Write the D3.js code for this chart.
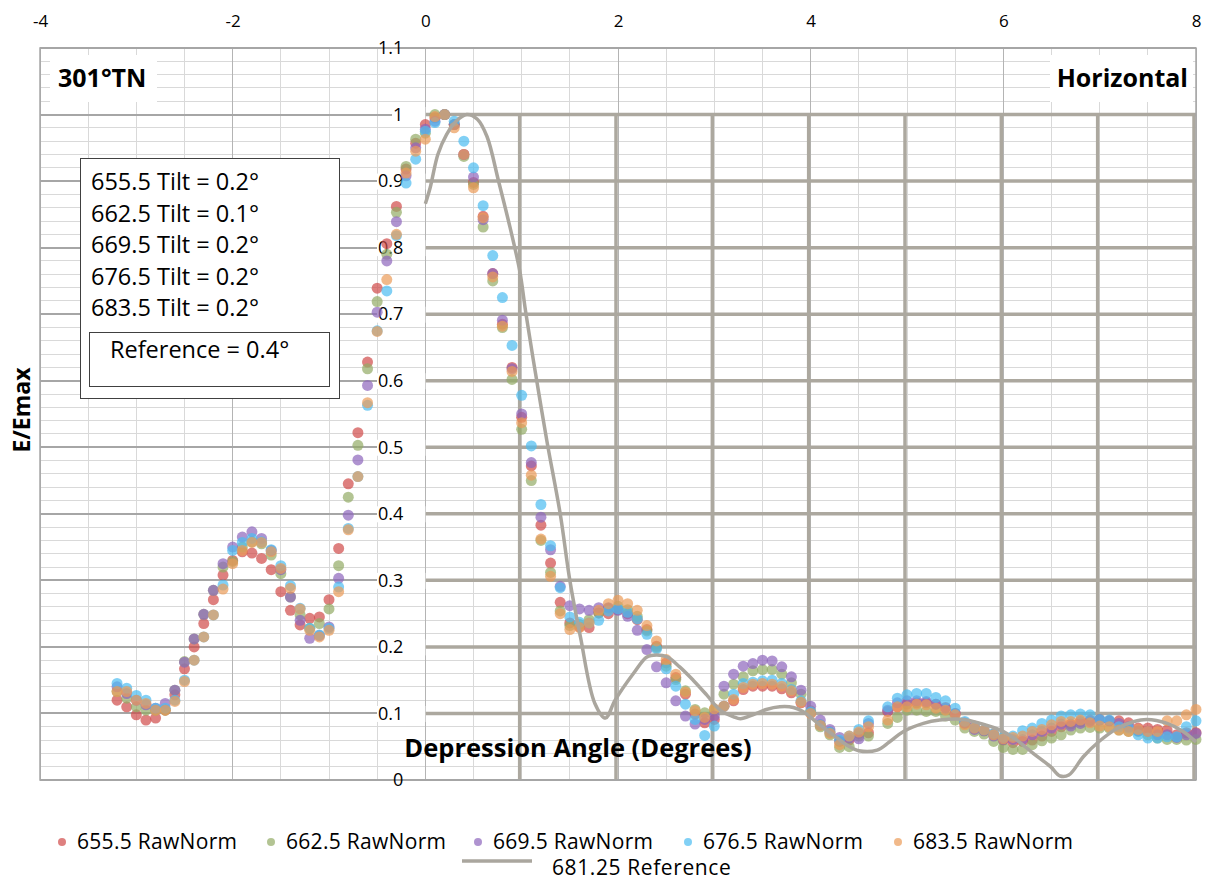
<!DOCTYPE html>
<html>
<head>
<meta charset="utf-8">
<script src="https://d3js.org/d3.v7.min.js"></script>
<style>
body { margin: 0; background: #fff; }
svg { display: block; font-family: "Open Sans", sans-serif; }
</style>
</head>
<body>
<script>
// depression angles of the measured points (degrees)
var angles = [
  -3.2, -3.1, -3.0, -2.9, -2.8, -2.7, -2.6, -2.5, -2.4, -2.3,
  -2.2, -2.1, -2.0, -1.9, -1.8, -1.7, -1.6, -1.5, -1.4, -1.3,
  -1.2, -1.1, -1.0, -0.9, -0.8, -0.7, -0.6, -0.5, -0.4, -0.3,
  -0.2, -0.1, 0.0, 0.1, 0.2, 0.3, 0.4, 0.5, 0.6, 0.7,
  0.8, 0.9, 1.0, 1.1, 1.2, 1.3, 1.4, 1.5, 1.6, 1.7,
  1.8, 1.9, 2.0, 2.1, 2.2, 2.3, 2.4, 2.5, 2.6, 2.7,
  2.8, 2.9, 3.0, 3.1, 3.2, 3.3, 3.4, 3.5, 3.6, 3.7,
  3.8, 3.9, 4.0, 4.1, 4.2, 4.3, 4.4, 4.5, 4.6, 4.7,
  4.8, 4.9, 5.0, 5.1, 5.2, 5.3, 5.4, 5.5, 5.6, 5.7,
  5.8, 5.9, 6.0, 6.1, 6.2, 6.3, 6.4, 6.5, 6.6, 6.7,
  6.8, 6.9, 7.0, 7.1, 7.2, 7.3, 7.4, 7.5, 7.6, 7.7,
  7.8, 7.9, 8.0
];

// E/Emax per wavelength (no sample at 4.7)
var raw655 = [
  .12, .11, .098, .09, .093, .105, .128, .167, .2, .235,
  .271, .308, .33, .343, .341, .333, .316, .283, .255, .233,
  .243, .245, .271, .348, .445, .522, .628, .739, .806, .862,
  .918, .957, .985, .995, 1.0, .985, .94, .898, .847, .761,
  .685, .62, .545, .472, .383, .326, .267, .236, .23, .229,
  .251, .25, .256, .25, .241, .226, .201, .176, .154, .129,
  .099, .086, .091, .111, .119, .136, .141, .141, .141, .137,
  .131, .116, .101, .083, .072, .058, .06, .07, .071, null,
  .103, .11, .114, .116, .116, .114, .109, .1, .085, .081,
  .074, .069, .06, .056, .058, .06, .066, .073, .08, .084,
  .088, .09, .091, .089, .089, .086, .078, .078, .076, .075,
  .068, .071, .071
];
var raw662 = [
  .133, .123, .11, .105, .105, .105, .135, .178, .212, .249,
  .285, .32, .328, .35, .358, .355, .338, .31, .275, .248,
  .228, .235, .257, .322, .425, .503, .618, .719, .79, .853,
  .922, .963, .972, 1.0, 1.0, .985, .937, .895, .831, .75,
  .68, .602, .527, .45, .36, .312, .254, .232, .234, .241,
  .251, .258, .261, .256, .246, .224, .199, .171, .151, .134,
  .106, .101, .106, .129, .144, .155, .164, .166, .166, .159,
  .146, .129, .104, .08, .068, .049, .05, .066, .066, null,
  .085, .094, .105, .105, .103, .103, .096, .09, .078, .073,
  .069, .058, .049, .046, .046, .053, .059, .063, .068, .075,
  .078, .079, .078, .078, .075, .073, .073, .068, .063, .061,
  .061, .06, .061
];
var raw669 = [
  .14, .13, .12, .113, .108, .115, .135, .177, .212, .249,
  .285, .325, .35, .365, .373, .363, .345, .316, .275, .24,
  .213, .217, .23, .303, .398, .481, .593, .703, .78, .839,
  .908, .95, .978, .99, 1.0, .985, .94, .906, .842, .761,
  .691, .618, .55, .477, .395, .346, .291, .262, .257, .255,
  .259, .259, .255, .246, .225, .196, .17, .146, .119, .096,
  .084, .091, .096, .141, .159, .171, .175, .18, .179, .17,
  .155, .135, .111, .09, .076, .064, .063, .062, .085, null,
  .105, .116, .119, .119, .118, .114, .108, .1, .086, .076,
  .074, .066, .061, .061, .061, .068, .073, .078, .084, .081,
  .085, .088, .09, .089, .085, .08, .074, .073, .068, .068,
  .064, .068, .07
];
var raw676 = [
  .145, .138, .127, .12, .108, .108, .12, .15, .18, .215,
  .248, .293, .345, .357, .363, .358, .346, .322, .292, .258,
  .228, .218, .228, .29, .378, .456, .563, .675, .735, .818,
  .897, .933, .975, .988, 1.0, .99, .96, .92, .863, .788,
  .725, .653, .578, .502, .414, .352, .289, .245, .237, .236,
  .24, .254, .257, .252, .242, .219, .197, .167, .141, .114,
  .091, .067, .081, .111, .129, .145, .147, .149, .15, .145,
  .136, .119, .102, .083, .072, .06, .066, .076, .089, null,
  .11, .123, .128, .13, .13, .124, .119, .108, .088, .079,
  .075, .07, .064, .066, .074, .078, .085, .09, .096, .098,
  .099, .098, .091, .09, .08, .078, .068, .063, .063, .065,
  .065, .08, .089
];
var raw683 = [
  .133, .133, .12, .115, .105, .105, .118, .148, .18, .215,
  .248, .287, .325, .345, .357, .357, .343, .318, .288, .257,
  .225, .215, .225, .283, .376, .456, .567, .674, .752, .82,
  .912, .945, .963, .997, 1.0, .98, .94, .89, .845, .756,
  .682, .614, .537, .458, .362, .306, .25, .226, .229, .236,
  .255, .265, .27, .265, .255, .232, .209, .181, .159, .132,
  .104, .094, .107, .111, .121, .139, .144, .145, .144, .141,
  .134, .117, .1, .082, .07, .053, .066, .072, .08, null,
  .09, .11, .11, .114, .113, .108, .105, .098, .083, .078,
  .075, .068, .062, .064, .066, .073, .076, .083, .088, .088,
  .09, .086, .081, .08, .075, .073, .076, .073, .073, .089,
  .089, .098, .106
];

// 681.25 reference curve
var refAngle = [0, 0.05, 0.13, 0.22, 0.32, 0.43, 0.54, 0.64, 0.76, 0.88,
  0.98, 1.04, 1.12, 1.26, 1.4, 1.5, 1.61, 1.76, 1.87, 1.97,
  2.16, 2.3, 2.4, 2.51, 2.64, 2.78, 2.92, 3.06, 3.2, 3.27,
  3.4, 3.54, 3.68, 3.82, 3.92, 4.06, 4.24, 4.38, 4.5, 4.69,
  4.82, 4.96, 5.17, 5.34, 5.59, 5.76, 5.97, 6.14, 6.31, 6.49,
  6.59, 6.68, 6.83, 6.99, 7.18, 7.35, 7.49, 7.7, 7.87, 8.0];
var refValue = [0.866, 0.89, 0.94, 0.97, 0.99, 1.0, 0.993, 0.967, 0.9, 0.83,
  0.765, 0.705, 0.632, 0.511, 0.4, 0.3, 0.215, 0.115, 0.093, 0.12,
  0.16, 0.185, 0.188, 0.185, 0.17, 0.15, 0.128, 0.105, 0.095, 0.092,
  0.098, 0.106, 0.11, 0.109, 0.103, 0.087, 0.067, 0.052, 0.044, 0.045,
  0.0575, 0.0725, 0.085, 0.09, 0.091, 0.085, 0.075, 0.06, 0.04, 0.02,
  0.006, 0.0075, 0.035, 0.0575, 0.0775, 0.0875, 0.091, 0.085, 0.0725, 0.057];

var seriesNames = ["655.5 RawNorm", "662.5 RawNorm", "669.5 RawNorm", "676.5 RawNorm", "683.5 RawNorm"];
var seriesValues = [raw655, raw662, raw669, raw676, raw683];
var seriesColors = ["#d04a48", "#93ab65", "#8d65bc", "#4bbcf1", "#eb9b58"];
var refName = "681.25 Reference";

var xTicks = [-4, -2, 0, 2, 4, 6, 8];
var yTicks = [0, 0.1, 0.2, 0.3, 0.4, 0.5, 0.6, 0.7, 0.8, 0.9, 1, 1.1];
var tiltLines = ["655.5 Tilt = 0.2°", "662.5 Tilt = 0.1°", "669.5 Tilt = 0.2°", "676.5 Tilt = 0.2°", "683.5 Tilt = 0.2°"];
var refNote = "Reference = 0.4°";

function run_d3 () {

    var width = 1208,
        height = 880;

    var svg = d3.select("body")
        .append("svg")
        .attr("width", width)
        .attr("height", height);

    var x = d3.scaleLinear().domain([-4, 8]).range([40, 1196]);
    var y = d3.scaleLinear().domain([0, 1.1]).range([780, 48]);

    var grid = svg.append("g").attr("shape-rendering", "crispEdges");

    // light grid: every 0.02 across, every 0.5 down
    grid.selectAll(".hmin")
        .data(d3.range(0, 56).map(function (i) { return i * 0.02; }))
        .enter().append("line")
        .attr("x1", x(-4)).attr("x2", x(8))
        .attr("y1", function (d) { return y(d); })
        .attr("y2", function (d) { return y(d); })
        .attr("stroke", "#d9d9d9");

    grid.selectAll(".vmin")
        .data(d3.range(0, 25).map(function (i) { return -4 + i * 0.5; }))
        .enter().append("line")
        .attr("y1", y(0)).attr("y2", y(1.1))
        .attr("x1", function (d) { return x(d); })
        .attr("x2", function (d) { return x(d); })
        .attr("stroke", function (d) { return d % 2 === 0 ? "#b4b4b4" : "#d9d9d9"; });

    // major horizontal lines every 0.1
    grid.selectAll(".hmaj")
        .data(yTicks)
        .enter().append("line")
        .attr("x1", x(-4)).attr("x2", x(8))
        .attr("y1", function (d) { return y(d); })
        .attr("y2", function (d) { return y(d); })
        .attr("stroke", "#a6a6a6")
        .attr("stroke-width", 2);

    // heavy grid over the right half
    var heavy = svg.append("g");
    heavy.selectAll(".hthick")
        .data(yTicks.slice(1, 11))
        .enter().append("line")
        .attr("x1", x(0)).attr("x2", x(8))
        .attr("y1", function (d) { return y(d); })
        .attr("y2", function (d) { return y(d); })
        .attr("stroke", "#aca89f")
        .attr("stroke-width", 3.5);
    heavy.selectAll(".vthick")
        .data([1, 2, 3, 4, 5, 6, 7, 8])
        .enter().append("line")
        .attr("x1", function (d) { return x(d) - 2; })
        .attr("x2", function (d) { return x(d) - 2; })
        .attr("y1", y(0)).attr("y2", y(1))
        .attr("stroke", "#aca89f")
        .attr("stroke-width", 3.5);

    // plot border
    svg.append("rect")
        .attr("x", x(-4)).attr("y", y(1.1))
        .attr("width", x(8) - x(-4)).attr("height", y(0) - y(1.1))
        .attr("fill", "none")
        .attr("stroke", "#a6a6a6")
        .attr("stroke-width", 1.5);

    // top axis
    var xAxis = svg.append("g")
        .attr("transform", "translate(0,27)")
        .call(d3.axisTop(x).tickValues(xTicks).tickSize(0).tickPadding(0)
            .tickFormat(function (d) { return String(d); }));
    xAxis.select(".domain").remove();
    xAxis.selectAll("text")
        .attr("font-family", "Open Sans")
        .attr("font-size", 17)
        .attr("fill", "#000");

    // left axis at x = 0
    var yAxis = svg.append("g")
        .attr("transform", "translate(" + x(0) + ",0)")
        .call(d3.axisLeft(y).tickValues(yTicks).tickSize(0).tickPadding(22)
            .tickFormat(function (d) { return d === 0 ? "0" : String(+d.toFixed(1)); }));
    yAxis.select(".domain").remove();
    yAxis.selectAll("text")
        .attr("font-family", "Open Sans")
        .attr("font-size", 18)
        .attr("fill", "#000");
    yAxis.selectAll(".tick").each(function (d) {
        if (d === 0 || d > 1.05) return;
        var t = d3.select(this).select("text");
        var b = t.node().getBBox();
        d3.select(this).insert("rect", "text")
            .attr("x", b.x - 1).attr("y", -8)
            .attr("width", -b.x + 1).attr("height", 16)
            .attr("fill", "#fff");
    });

    // corner labels
    svg.append("rect").attr("x", 50).attr("y", 55).attr("width", 107).attr("height", 47).attr("fill", "#fff");
    svg.append("text").attr("x", 58).attr("y", 87)
        .attr("font-size", 25).attr("font-weight", "bold").text("301°TN");
    svg.append("rect").attr("x", 1050).attr("y", 55).attr("width", 143).attr("height", 47).attr("fill", "#fff");
    svg.append("text").attr("x", 1188).attr("y", 87).attr("text-anchor", "end")
        .attr("font-size", 25).attr("font-weight", "bold").text("Horizontal");

    // axis titles
    svg.append("text")
        .attr("transform", "translate(30,410) rotate(-90)")
        .attr("text-anchor", "middle")
        .attr("font-size", 23).attr("font-weight", "bold")
        .text("E/Emax");
    svg.append("text")
        .attr("x", 578).attr("y", 757)
        .attr("text-anchor", "middle")
        .attr("font-size", 25.5).attr("font-weight", "bold")
        .text("Depression Angle (Degrees)");

    // measured points
    var pts = svg.append("g");
    seriesValues.forEach(function (vals, k) {
        pts.append("g")
            .selectAll("circle")
            .data(angles.map(function (a, i) { return [a, vals[i]]; })
                .filter(function (d) { return d[1] !== null; }))
            .enter().append("circle")
            .attr("cx", function (d) { return x(d[0]); })
            .attr("cy", function (d) { return y(d[1]); })
            .attr("r", 5.5)
            .attr("fill", seriesColors[k])
            .attr("fill-opacity", 0.7);
    });

    // reference curve
    var line = d3.line()
        .x(function (d) { return x(d[0]); })
        .y(function (d) { return y(d[1]); })
        .curve(d3.curveCatmullRom.alpha(0.5));
    svg.append("path")
        .datum(d3.zip(refAngle, refValue))
        .attr("d", line)
        .attr("fill", "none")
        .attr("stroke", "#aaa69e")
        .attr("stroke-width", 3.5);

    // tilt box
    svg.append("rect").attr("x", 80.5).attr("y", 158.5).attr("width", 259).attr("height", 240)
        .attr("fill", "#fff").attr("stroke", "#404040");
    svg.selectAll(".tilt")
        .data(tiltLines)
        .enter().append("text")
        .attr("x", 91)
        .attr("y", function (d, i) { return 190 + i * 31.6; })
        .attr("font-size", 23.5)
        .text(function (d) { return d; });
    svg.append("rect").attr("x", 89.5).attr("y", 332.5).attr("width", 240).attr("height", 54)
        .attr("fill", "none").attr("stroke", "#404040");
    svg.append("text").attr("x", 110).attr("y", 358).attr("font-size", 23.5).text(refNote);

    // legend at the bottom
    var legX = [62, 271, 478, 688, 898];
    var leg = svg.append("g");
    seriesNames.forEach(function (name, k) {
        leg.append("circle").attr("cx", legX[k]).attr("cy", 842).attr("r", 4)
            .attr("fill", seriesColors[k]).attr("fill-opacity", 0.7);
        leg.append("text").attr("x", legX[k] + 15).attr("y", 849)
            .attr("font-size", 21).attr("letter-spacing", 0.3).text(name);
    });
    leg.append("line").attr("x1", 462).attr("x2", 532).attr("y1", 861).attr("y2", 861)
        .attr("stroke", "#aaa69e").attr("stroke-width", 3.5);
    leg.append("text").attr("x", 552).attr("y", 875)
        .attr("font-size", 21).attr("letter-spacing", 0.6).text(refName);
}

window.onload = run_d3;
</script>
</body>
</html>
